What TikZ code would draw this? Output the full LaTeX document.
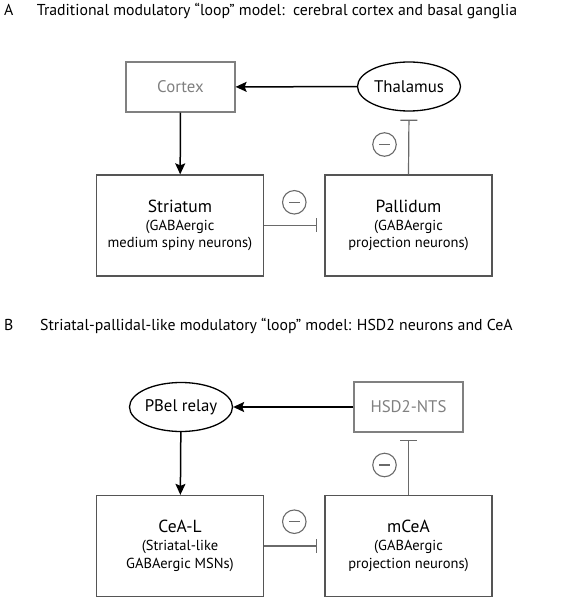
\documentclass[tikz,border=0pt]{standalone}
\usepackage{fontspec}
\setmainfont{PT Sans}
\usetikzlibrary{shapes.geometric,arrows.meta}
\definecolor{boxgray}{HTML}{555555}
\definecolor{lightgray}{HTML}{808080}
\definecolor{inhgray}{HTML}{6A6A6A}
\tikzset{
  bigbox/.style={draw=boxgray, line width=1.3pt, minimum width=167pt, minimum height=101pt, align=center, inner sep=0pt,
    font=\fontsize{14.5}{17.5}\selectfont},
  graybox/.style={draw=lightgray, line width=1.2pt, minimum width=109pt, minimum height=50pt, text=lightgray, font=\fontsize{16.8}{18}\selectfont},
  oval/.style={ellipse, draw=black, line width=1.3pt, minimum width=103pt, minimum height=49pt, inner sep=0pt, font=\fontsize{16.8}{18}\selectfont},
  excite/.style={draw=black, line width=1.5pt, -{Stealth[length=11pt,width=10pt,inset=2pt]}},
  inhib/.style={draw=inhgray, line width=1.2pt, -{Bar[width=#1]}},
  minus/.style={circle, draw=inhgray, line width=1.1pt, minimum size=23.5pt, inner sep=0pt,
    path picture={\draw[inhgray, line width=1.1pt] ([xshift=-5.5pt]path picture bounding box.center) -- ([xshift=5.5pt]path picture bounding box.center);}},
  title/.style={anchor=base west, inner sep=0pt, font=\fontsize{15.8}{18}\selectfont},
}
\newcommand{\nm}[1]{{\fontsize{17.5}{17.5}\selectfont #1}\\[0.5pt]}
\begin{document}
\begin{tikzpicture}[x=1pt,y=-1pt]
\useasboundingbox (0,0) rectangle (562,601);
% Panel A
\node[title] (la) at (4,16) {A};
\node[title] (ta) at (36.7,16) {Traditional modulatory “loop” model:\, cerebral cortex and basal ganglia};
\node[graybox] (cortex) at (180.5,87) {Cortex};
\node[oval] (thal) at (409,86.5) {Thalamus};
\node[bigbox] (str) at (180,225.5) {\nm{Striatum}(GABAergic\\medium spiny neurons)};
\node[bigbox] (pal) at (408.5,225.5) {\nm{Pallidum}(GABAergic\\projection neurons)};
\draw[excite] (thal) -- (cortex);
\draw[excite] (cortex) -- (str);
\draw[inhib=14pt, shorten >=7pt] (str.east) -- (pal.west);
\draw[inhib=17pt, shorten >=8pt] (pal.north) -- (thal.south);
\node[minus] (m1) at (294.3,202.3) {};
\node[minus] (m2) at (384.5,144.5) {};
% Panel B
\node[title] (lb) at (4,330) {B};
\node[title] (tb) at (40,330) {Striatal-pallidal-like modulatory “loop” model: HSD2 neurons and CeA};
\node[oval] (pbel) at (181,407) {PBel relay};
\node[graybox] (hsd) at (408.5,407) {HSD2-NTS};
\node[bigbox] (cea) at (180,546) {\nm{CeA-L}(Striatal-like\\GABAergic MSNs)};
\node[bigbox] (mcea) at (408.5,546) {\nm{mCeA}(GABAergic\\projection neurons)};
\draw[excite] (hsd) -- (pbel);
\draw[excite] (pbel) -- (cea);
\draw[inhib=14pt, shorten >=7pt] (cea.east) -- (mcea.west);
\draw[inhib=17pt, shorten >=7pt] (mcea.north) -- (hsd.south);
\node[minus] (m3) at (294.3,521.7) {};
\node[minus] (m4) at (384.5,465) {};
\end{tikzpicture}
\end{document}
